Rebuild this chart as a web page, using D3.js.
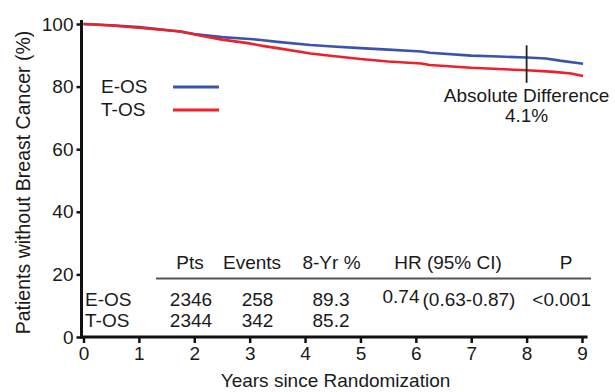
<!DOCTYPE html>
<html>
<head>
<meta charset="utf-8">
<script src="https://cdn.jsdelivr.net/npm/d3@7"></script>
<style>
  html, body { margin: 0; padding: 0; background: #fff; }
  svg text { font-family: "Liberation Sans", Arial, Helvetica, sans-serif; fill: #1a1a1a; }
</style>
</head>
<body>
<svg id="chart" width="615" height="392"></svg>
<script>
// Kaplan-Meier style survival estimates: [years, percent]
const eosCurve = [
  [0, 100], [0.5, 99.6], [1, 99.0], [1.5, 98.1], [1.75, 97.6], [2, 96.8], [2.5, 95.8],
  [3, 95.2], [3.2, 94.9], [3.5, 94.3], [4.1, 93.3], [4.5, 92.8], [5, 92.3],
  [5.5, 91.8], [6.1, 91.2], [6.25, 90.8], [7, 89.9], [7.5, 89.6], [8, 89.3],
  [8.35, 89.0], [8.6, 88.3], [9.02, 87.3]
];
const tosCurve = [
  [0, 100], [0.5, 99.5], [1, 98.8], [1.5, 98.0], [1.75, 97.6], [2.1, 96.3], [2.5, 95.0],
  [3, 93.8], [3.2, 93.1], [3.5, 92.3], [4.1, 90.6], [4.5, 89.8], [5, 88.8],
  [5.5, 88.0], [6.1, 87.4], [6.25, 86.9], [7, 86.0], [7.5, 85.6], [8, 85.2],
  [8.5, 84.7], [8.8, 84.2], [9.02, 83.4]
];

const seriesNames = ["E-OS", "T-OS"];
const seriesColors = ["#3a54ad", "#ec2129"];

const xTicks = [0, 1, 2, 3, 4, 5, 6, 7, 8, 9];
const yTicks = [0, 20, 40, 60, 80, 100];

// Summary table
const tableHeaders = ["Pts", "Events", "8-Yr %", "HR (95% CI)", "P"];
const pts = [2346, 2344];
const events = [258, 342];
const eightYr = [89.3, 85.2];
const hazardRatio = "0.74";
const hrCI = "(0.63-0.87)";
const pValue = "<0.001";
const absDiff = "4.1%";

const svg = d3.select("#chart");

const x = d3.scaleLinear().domain([0, 9]).range([83.5, 582]);
const y = d3.scaleLinear().domain([0, 100]).range([337, 24]);

// Axes
const yAxis = d3.axisLeft(y).tickValues(yTicks).tickSize(5).tickSizeOuter(0).tickPadding(3);
const xAxis = d3.axisBottom(x).tickValues(xTicks).tickSize(6).tickSizeOuter(0).tickPadding(4);

const gy = svg.append("g").attr("transform", `translate(${x(0) - 2},0)`).call(yAxis);
const gx = svg.append("g").attr("transform", `translate(0,${y(0)})`).call(xAxis);

[gy, gx].forEach(g => {
  g.select(".domain").remove();
  g.selectAll(".tick line").attr("stroke", "#111").attr("stroke-width", 2.5);
  g.selectAll(".tick text").attr("font-size", 19).attr("fill", "#1a1a1a")
    .attr("font-family", "Liberation Sans, Arial, sans-serif");
});

// Axis lines
svg.append("line")
  .attr("x1", x(0) - 2).attr("x2", x(0) - 2)
  .attr("y1", y(101.3)).attr("y2", y(0) + 1.5)
  .attr("stroke", "#111").attr("stroke-width", 3);
svg.append("line")
  .attr("x1", x(0) - 3.5).attr("x2", x(9.1))
  .attr("y1", y(0)).attr("y2", y(0))
  .attr("stroke", "#111").attr("stroke-width", 3);

// Axis titles
svg.append("text")
  .attr("transform", `translate(30,${y(50) + 2}) rotate(-90)`)
  .attr("text-anchor", "middle").attr("font-size", 19.5)
  .text("Patients without Breast Cancer (%)");
svg.append("text")
  .attr("x", x(4.55)).attr("y", 387)
  .attr("text-anchor", "middle").attr("font-size", 19)
  .text("Years since Randomization");

// Survival curves
const line = d3.line().x(d => x(d[0])).y(d => y(d[1]));
[eosCurve, tosCurve].forEach((c, i) => {
  svg.append("path").datum(c)
    .attr("d", line)
    .attr("fill", "none")
    .attr("stroke", seriesColors[i])
    .attr("stroke-width", 2.6)
    .attr("stroke-linejoin", "round");
});

// Absolute difference marker at 8 years
svg.append("line")
  .attr("x1", x(8)).attr("x2", x(8))
  .attr("y1", y(93.2)).attr("y2", y(81.2))
  .attr("stroke", "#222").attr("stroke-width", 1.8);
svg.append("text")
  .attr("x", x(8)).attr("y", 102)
  .attr("text-anchor", "middle").attr("font-size", 19)
  .text("Absolute Difference");
svg.append("text")
  .attr("x", x(8)).attr("y", 121.5)
  .attr("text-anchor", "middle").attr("font-size", 19)
  .text(absDiff);

// Legend
seriesNames.forEach((name, i) => {
  const ly = 87 + i * 23;
  svg.append("text").attr("x", 101).attr("y", ly + 6)
    .attr("font-size", 19).text(name);
  svg.append("line")
    .attr("x1", 173).attr("x2", 219).attr("y1", ly).attr("y2", ly)
    .attr("stroke", seriesColors[i]).attr("stroke-width", 2.8);
});

// Table
const colX = [190, 252, 331.5, 448, 566];
tableHeaders.forEach((h, i) => {
  svg.append("text").attr("x", colX[i]).attr("y", 269)
    .attr("text-anchor", "middle").attr("font-size", 19).text(h);
});
svg.append("line")
  .attr("x1", 156).attr("x2", 591).attr("y1", 278.5).attr("y2", 278.5)
  .attr("stroke", "#555").attr("stroke-width", 2.2);

const rowY = [306, 327];
seriesNames.forEach((name, i) => {
  svg.append("text").attr("x", 85).attr("y", rowY[i]).attr("font-size", 19).text(name);
  svg.append("text").attr("x", 191).attr("y", rowY[i]).attr("text-anchor", "middle")
    .attr("font-size", 19).text(pts[i]);
  svg.append("text").attr("x", 257.5).attr("y", rowY[i]).attr("text-anchor", "middle")
    .attr("font-size", 19).text(events[i]);
  svg.append("text").attr("x", 331).attr("y", rowY[i]).attr("text-anchor", "middle")
    .attr("font-size", 19).text(eightYr[i].toFixed(1));
});
svg.append("text").attr("x", 382.5).attr("y", 303).attr("font-size", 19).text(hazardRatio);
svg.append("text").attr("x", 422.5).attr("y", 306).attr("font-size", 19).text(hrCI);
svg.append("text").attr("x", 591).attr("y", 306).attr("text-anchor", "end")
  .attr("font-size", 19).text(pValue);
</script>
</body>
</html>
